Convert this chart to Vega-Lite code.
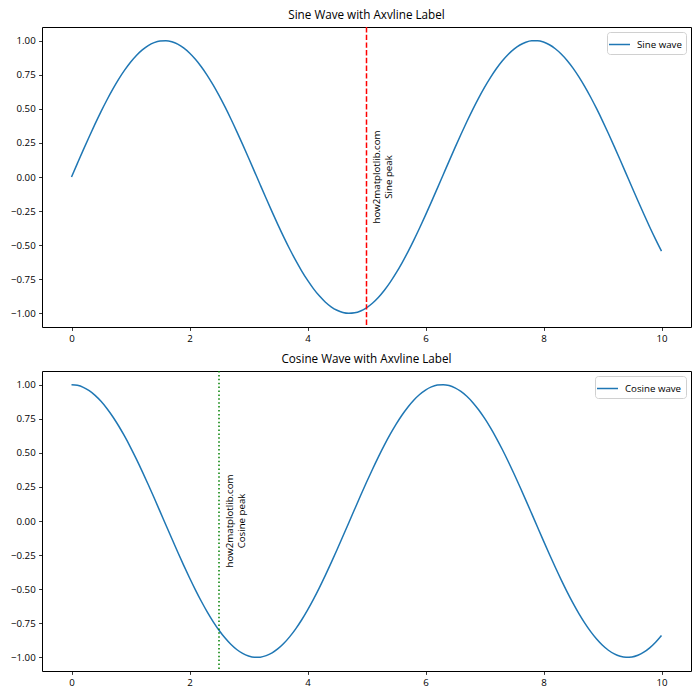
{
  "$schema": "https://vega.github.io/schema/vega-lite/v6.json",
  "padding": {"top": 9, "left": 5, "right": 5, "bottom": 5},
  "spacing": 9,
  "config": {
    "font": "Open Sans",
    "view": {"stroke": "black", "strokeWidth": 1},
    "axis": {"domain": false, "grid": false, "tickColor": "black", "tickSize": 3.4, "tickWidth": 0.8, "labelPadding": 3.4, "labelFontSize": 9.7, "labelColor": "black", "title": null, "labelOverlap": false, "labelFlush": false},
    "title": {"fontSize": 11.7, "fontWeight": "normal", "offset": 5, "color": "black"},
    "legend": {"strokeColor": "#d0d0d0", "fillColor": "white", "cornerRadius": 3, "padding": 4, "labelFontSize": 9.7, "labelColor": "black", "symbolType": "M-1.4,0H1.4", "symbolStrokeWidth": 1.5, "symbolSize": 225, "labelOffset": 9, "offset": 5, "orient": "top-right", "title": null}
  },
  "resolve": {"scale": {"color": "independent"}, "legend": {"color": "independent"}},
  "datasets": {
    "waves": [
      {"x":0.0,"sine":0.0,"cosine":1.0},
      {"x":0.1,"sine":0.0998,"cosine":0.9950},
      {"x":0.2,"sine":0.1987,"cosine":0.9801},
      {"x":0.3,"sine":0.2955,"cosine":0.9553},
      {"x":0.4,"sine":0.3894,"cosine":0.9211},
      {"x":0.5,"sine":0.4794,"cosine":0.8776},
      {"x":0.6,"sine":0.5646,"cosine":0.8253},
      {"x":0.7,"sine":0.6442,"cosine":0.7648},
      {"x":0.8,"sine":0.7174,"cosine":0.6967},
      {"x":0.9,"sine":0.7833,"cosine":0.6216},
      {"x":1.0,"sine":0.8415,"cosine":0.5403},
      {"x":1.1,"sine":0.8912,"cosine":0.4536},
      {"x":1.2,"sine":0.9320,"cosine":0.3624},
      {"x":1.3,"sine":0.9636,"cosine":0.2675},
      {"x":1.4,"sine":0.9854,"cosine":0.1700},
      {"x":1.5,"sine":0.9975,"cosine":0.0707},
      {"x":1.6,"sine":0.9996,"cosine":-0.0292},
      {"x":1.7,"sine":0.9917,"cosine":-0.1288},
      {"x":1.8,"sine":0.9738,"cosine":-0.2272},
      {"x":1.9,"sine":0.9463,"cosine":-0.3233},
      {"x":2.0,"sine":0.9093,"cosine":-0.4161},
      {"x":2.1,"sine":0.8632,"cosine":-0.5048},
      {"x":2.2,"sine":0.8085,"cosine":-0.5885},
      {"x":2.3,"sine":0.7457,"cosine":-0.6663},
      {"x":2.4,"sine":0.6755,"cosine":-0.7374},
      {"x":2.5,"sine":0.5985,"cosine":-0.8011},
      {"x":2.6,"sine":0.5155,"cosine":-0.8569},
      {"x":2.7,"sine":0.4274,"cosine":-0.9041},
      {"x":2.8,"sine":0.3350,"cosine":-0.9422},
      {"x":2.9,"sine":0.2392,"cosine":-0.9710},
      {"x":3.0,"sine":0.1411,"cosine":-0.9900},
      {"x":3.1,"sine":0.0416,"cosine":-0.9991},
      {"x":3.2,"sine":-0.0584,"cosine":-0.9983},
      {"x":3.3,"sine":-0.1577,"cosine":-0.9875},
      {"x":3.4,"sine":-0.2555,"cosine":-0.9668},
      {"x":3.5,"sine":-0.3508,"cosine":-0.9365},
      {"x":3.6,"sine":-0.4425,"cosine":-0.8968},
      {"x":3.7,"sine":-0.5298,"cosine":-0.8481},
      {"x":3.8,"sine":-0.6119,"cosine":-0.7910},
      {"x":3.9,"sine":-0.6878,"cosine":-0.7259},
      {"x":4.0,"sine":-0.7568,"cosine":-0.6536},
      {"x":4.1,"sine":-0.8183,"cosine":-0.5748},
      {"x":4.2,"sine":-0.8716,"cosine":-0.4903},
      {"x":4.3,"sine":-0.9162,"cosine":-0.4008},
      {"x":4.4,"sine":-0.9516,"cosine":-0.3073},
      {"x":4.5,"sine":-0.9775,"cosine":-0.2108},
      {"x":4.6,"sine":-0.9937,"cosine":-0.1122},
      {"x":4.7,"sine":-0.9999,"cosine":-0.0124},
      {"x":4.8,"sine":-0.9962,"cosine":0.0875},
      {"x":4.9,"sine":-0.9825,"cosine":0.1865},
      {"x":5.0,"sine":-0.9589,"cosine":0.2837},
      {"x":5.1,"sine":-0.9258,"cosine":0.3780},
      {"x":5.2,"sine":-0.8835,"cosine":0.4685},
      {"x":5.3,"sine":-0.8323,"cosine":0.5544},
      {"x":5.4,"sine":-0.7728,"cosine":0.6347},
      {"x":5.5,"sine":-0.7055,"cosine":0.7087},
      {"x":5.6,"sine":-0.6313,"cosine":0.7756},
      {"x":5.7,"sine":-0.5507,"cosine":0.8347},
      {"x":5.8,"sine":-0.4646,"cosine":0.8855},
      {"x":5.9,"sine":-0.3739,"cosine":0.9275},
      {"x":6.0,"sine":-0.2794,"cosine":0.9602},
      {"x":6.1,"sine":-0.1822,"cosine":0.9833},
      {"x":6.2,"sine":-0.0831,"cosine":0.9965},
      {"x":6.3,"sine":0.0168,"cosine":0.9999},
      {"x":6.4,"sine":0.1165,"cosine":0.9932},
      {"x":6.5,"sine":0.2151,"cosine":0.9766},
      {"x":6.6,"sine":0.3115,"cosine":0.9502},
      {"x":6.7,"sine":0.4048,"cosine":0.9144},
      {"x":6.8,"sine":0.4941,"cosine":0.8694},
      {"x":6.9,"sine":0.5784,"cosine":0.8157},
      {"x":7.0,"sine":0.6570,"cosine":0.7539},
      {"x":7.1,"sine":0.7290,"cosine":0.6845},
      {"x":7.2,"sine":0.7937,"cosine":0.6084},
      {"x":7.3,"sine":0.8504,"cosine":0.5261},
      {"x":7.4,"sine":0.8987,"cosine":0.4385},
      {"x":7.5,"sine":0.9380,"cosine":0.3466},
      {"x":7.6,"sine":0.9679,"cosine":0.2513},
      {"x":7.7,"sine":0.9882,"cosine":0.1534},
      {"x":7.8,"sine":0.9985,"cosine":0.0540},
      {"x":7.9,"sine":0.9989,"cosine":-0.0460},
      {"x":8.0,"sine":0.9894,"cosine":-0.1455},
      {"x":8.1,"sine":0.9699,"cosine":-0.2435},
      {"x":8.2,"sine":0.9407,"cosine":-0.3392},
      {"x":8.3,"sine":0.9022,"cosine":-0.4314},
      {"x":8.4,"sine":0.8546,"cosine":-0.5193},
      {"x":8.5,"sine":0.7985,"cosine":-0.6020},
      {"x":8.6,"sine":0.7344,"cosine":-0.6787},
      {"x":8.7,"sine":0.6630,"cosine":-0.7486},
      {"x":8.8,"sine":0.5849,"cosine":-0.8111},
      {"x":8.9,"sine":0.5010,"cosine":-0.8654},
      {"x":9.0,"sine":0.4121,"cosine":-0.9111},
      {"x":9.1,"sine":0.3191,"cosine":-0.9477},
      {"x":9.2,"sine":0.2229,"cosine":-0.9748},
      {"x":9.3,"sine":0.1245,"cosine":-0.9922},
      {"x":9.4,"sine":0.0248,"cosine":-0.9997},
      {"x":9.5,"sine":-0.0752,"cosine":-0.9972},
      {"x":9.6,"sine":-0.1743,"cosine":-0.9847},
      {"x":9.7,"sine":-0.2718,"cosine":-0.9624},
      {"x":9.8,"sine":-0.3665,"cosine":-0.9304},
      {"x":9.9,"sine":-0.4575,"cosine":-0.8892},
      {"x":10.0,"sine":-0.5440,"cosine":-0.8391}
    ]
  },
  "vconcat": [
    {
      "title": "Sine Wave with Axvline Label",
      "width": 649,
      "height": 300,
      "layer": [
        {
          "data": {"name": "waves"},
          "mark": {"type": "line", "strokeWidth": 1.5, "interpolate": "monotone"},
          "encoding": {
            "x": {"field": "x", "type": "quantitative", "scale": {"domain": [-0.5, 10.5], "nice": false, "zero": false}, "axis": {"values": [0, 2, 4, 6, 8, 10], "format": "d"}},
            "y": {"field": "sine", "type": "quantitative", "scale": {"domain": [-1.1, 1.1], "nice": false}, "axis": {"values": [-1, -0.75, -0.5, -0.25, 0, 0.25, 0.5, 0.75, 1], "format": ".2f", "minExtent": 36, "maxExtent": 36}},
            "color": {"datum": "Sine wave", "scale": {"range": ["#1f77b4"]}}
          }
        },
        {
          "data": {"values": [{"x": 5}]},
          "mark": {"type": "rule", "color": "#ff0000", "strokeWidth": 1.5, "strokeDash": [5.4, 2.3]},
          "encoding": {"x": {"field": "x", "type": "quantitative", "axis": {"values": [0, 2, 4, 6, 8, 10], "format": "d"}}}
        },
        {
          "data": {"values": [{"x": 5.1, "y": 0, "label": "how2matplotlib.com\nSine peak"}]},
          "mark": {"type": "text", "angle": 270, "align": "center", "baseline": "top", "lineBreak": "\n", "fontSize": 9.7, "lineHeight": 12, "color": "black"},
          "encoding": {
            "x": {"field": "x", "type": "quantitative", "axis": {"values": [0, 2, 4, 6, 8, 10], "format": "d"}},
            "y": {"field": "y", "type": "quantitative", "axis": {"values": [-1, -0.75, -0.5, -0.25, 0, 0.25, 0.5, 0.75, 1], "format": ".2f", "minExtent": 36, "maxExtent": 36}},
            "text": {"field": "label"}
          }
        }
      ]
    },
    {
      "title": "Cosine Wave with Axvline Label",
      "width": 649,
      "height": 300,
      "layer": [
        {
          "data": {"name": "waves"},
          "mark": {"type": "line", "strokeWidth": 1.5, "interpolate": "monotone"},
          "encoding": {
            "x": {"field": "x", "type": "quantitative", "scale": {"domain": [-0.5, 10.5], "nice": false, "zero": false}, "axis": {"values": [0, 2, 4, 6, 8, 10], "format": "d"}},
            "y": {"field": "cosine", "type": "quantitative", "scale": {"domain": [-1.1, 1.1], "nice": false}, "axis": {"values": [-1, -0.75, -0.5, -0.25, 0, 0.25, 0.5, 0.75, 1], "format": ".2f", "minExtent": 36, "maxExtent": 36}},
            "color": {"datum": "Cosine wave", "scale": {"range": ["#1f77b4"]}}
          }
        },
        {
          "data": {"values": [{"x": 2.5}]},
          "mark": {"type": "rule", "color": "#008000", "strokeWidth": 1.5, "strokeDash": [1.5, 2.4]},
          "encoding": {"x": {"field": "x", "type": "quantitative", "axis": {"values": [0, 2, 4, 6, 8, 10], "format": "d"}}}
        },
        {
          "data": {"values": [{"x": 2.6, "y": 0, "label": "how2matplotlib.com\nCosine peak"}]},
          "mark": {"type": "text", "angle": 270, "align": "center", "baseline": "top", "lineBreak": "\n", "fontSize": 9.7, "lineHeight": 12, "color": "black"},
          "encoding": {
            "x": {"field": "x", "type": "quantitative", "axis": {"values": [0, 2, 4, 6, 8, 10], "format": "d"}},
            "y": {"field": "y", "type": "quantitative", "axis": {"values": [-1, -0.75, -0.5, -0.25, 0, 0.25, 0.5, 0.75, 1], "format": ".2f", "minExtent": 36, "maxExtent": 36}},
            "text": {"field": "label"}
          }
        }
      ]
    }
  ]
}
